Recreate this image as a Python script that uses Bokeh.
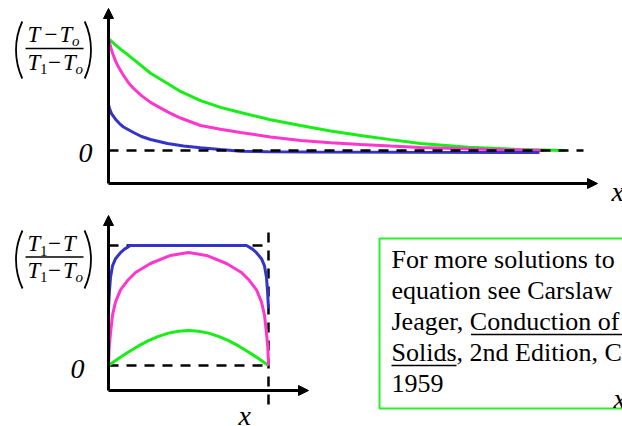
import math
from bokeh.plotting import figure
from bokeh.layouts import column
from bokeh.models import Range1d, Arrow, NormalHead
from bokeh.core.properties import value
from bokeh.embed import file_html
from bokeh.resources import INLINE

# ---------------- data ----------------
# Top panel: semi-infinite solid, dimensionless (T - To)/(T1 - To) vs distance
top_green_x = [0, 0.06, 0.12, 0.2, 0.27, 0.42, 0.57, 0.72, 0.92, 1.12, 1.32, 1.62, 1.92, 2.22, 2.52, 2.82, 3.12, 3.6, 4.1, 4.57]
top_green_y = [1.0, 0.95, 0.905, 0.85, 0.80, 0.69, 0.61, 0.527, 0.446, 0.385, 0.339, 0.275, 0.223, 0.175, 0.134, 0.097, 0.063, 0.030, 0.010, 0.0]

top_magenta_x = [0, 0.01, 0.02, 0.04, 0.07, 0.1, 0.15, 0.2, 0.25, 0.33, 0.42, 0.5, 0.59, 0.72, 0.92, 1.12, 1.32, 1.62, 1.92, 2.22, 2.52, 2.82, 3.12, 3.8, 4.35]
top_magenta_y = [1.0, 0.96, 0.93, 0.87, 0.80, 0.745, 0.67, 0.605, 0.554, 0.49, 0.43, 0.39, 0.345, 0.29, 0.223, 0.19, 0.161, 0.12, 0.089, 0.07, 0.054, 0.04, 0.027, 0.009, 0.0]

top_blue_x = [0, 0.01, 0.03, 0.07, 0.11, 0.15, 0.25, 0.33, 0.42, 0.59, 0.75, 0.92, 1.12, 1.32, 1.6, 2.0, 3.0, 4.31]
top_blue_y = [0.411, 0.375, 0.33, 0.28, 0.24, 0.21, 0.161, 0.125, 0.098, 0.062, 0.04, 0.025, 0.008, -0.006, -0.011, -0.013, -0.016, -0.018]

# Bottom panel: slab, dimensionless (T1 - T)/(T1 - To) vs x/L
bot_blue_x = [0, 0.006, 0.0125, 0.025, 0.044, 0.075, 0.1, 0.1375, 0.8625, 0.9, 0.925, 0.956, 0.975, 0.9875, 0.994, 1.0]
bot_blue_y = [0.475, 0.62, 0.733, 0.83, 0.89, 0.94, 0.97, 1.0, 1.0, 0.97, 0.94, 0.89, 0.83, 0.733, 0.62, 0.475]

bot_magenta_x = [0, 0.004, 0.0125, 0.025, 0.044, 0.075, 0.119, 0.169, 0.2625, 0.3875, 0.5, 0.6125, 0.7375, 0.831, 0.881, 0.925, 0.956, 0.975, 0.9875, 0.996, 1.0]
bot_magenta_y = [0, 0.15, 0.267, 0.42, 0.53, 0.63, 0.708, 0.775, 0.85, 0.917, 0.942, 0.917, 0.85, 0.775, 0.708, 0.63, 0.53, 0.42, 0.267, 0.15, 0]

bot_green_x = [0, 0.0625, 0.125, 0.1875, 0.25, 0.3125, 0.375, 0.4375, 0.5, 0.5625, 0.625, 0.6875, 0.75, 0.8125, 0.875, 0.9375, 1.0]
bot_green_y = [0, 0.058, 0.113, 0.163, 0.207, 0.243, 0.27, 0.286, 0.292, 0.286, 0.27, 0.243, 0.207, 0.163, 0.113, 0.058, 0]

note_lines = ["For more solutions to", "equation see Carslaw", "Jeager, Conduction of", "Solids, 2nd Edition, C", "1959"]

# ---------------- styling ----------------
GREEN = "#16ee16"
MAGENTA = "#ff36cc"
BLUE = "#3434c8"
BOX_GREEN = "#2bef2b"
SERIF = "Liberation Serif"
W = 622
TOP_H = 204
BOT_H = 222
BASE_FIX = 0.36  # bokeh draws 'alphabetic' text lower than the anchor; compensate


def make_fig(h, xr, yr):
    p = figure(width=W, height=h, x_range=Range1d(*xr), y_range=Range1d(*yr),
               output_backend="svg", toolbar_location=None, min_border=0,
               x_axis_location=None, y_axis_location=None)
    p.grid.visible = False
    p.outline_line_color = None
    p.background_fill_color = "white"
    p.border_fill_color = "white"
    return p


# helpers to place annotations (picture pixel -> data units of each panel)
def tp(X, Y):
    return (X - 108) / 100.0, (150 - Y) / 112.0


def bp(X, Y):
    return (X - 108) / 160.0, (365 - Y) / 120.0


def lab(p, conv, X, Y, text, size, style="italic", align="left"):
    x, y = conv(X, Y - BASE_FIX * size)
    p.text(x=[x], y=[y], text=[text], text_font=value(SERIF), text_font_size=value(f"{size}px"),
           text_font_style=style, text_align=align, text_baseline="alphabetic",
           text_color="black")


def arrow(p, x0, y0, x1, y1):
    p.add_layout(Arrow(end=NormalHead(size=10, fill_color="black", line_color="black", line_width=1),
                       x_start=x0, y_start=y0, x_end=x1, y_end=y1,
                       line_width=3, line_color="black"))


def parens(p, conv, ytop, ybot):
    r = 68.0
    yc = (ytop + ybot) / 2.0
    th = math.asin(((ybot - ytop) / 2.0) / r)
    cx, cy = conv(15.5 + r, yc)
    p.arc(x=[cx], y=[cy], radius=r, radius_units="screen", start_angle=math.pi - th,
          end_angle=math.pi + th, line_color="black", line_width=1.8)
    cx, cy = conv(90.5 - r, yc)
    p.arc(x=[cx], y=[cy], radius=r, radius_units="screen", start_angle=-th,
          end_angle=th, line_color="black", line_width=1.8)


def frac_part(p, conv, base, parts):
    for t, X, dy, s, st in parts:
        lab(p, conv, X, base + dy, t, s, st)


# ---------------- top panel ----------------
top = make_fig(TOP_H, (tp(0, 0)[0], tp(W, 0)[0]), (tp(0, TOP_H)[1], tp(0, 0)[1]))

top.line(top_green_x, top_green_y, line_color=GREEN, line_width=3)
top.line(top_magenta_x, top_magenta_y, line_color=MAGENTA, line_width=3)
top.line(top_blue_x, top_blue_y, line_color=BLUE, line_width=3)
top.line([0, 4.75], [0, 0], line_color="black", line_width=2.5, line_dash="10 8")

ax_y = tp(0, 183)[1]
arrow(top, 0, ax_y, 0, tp(0, 8)[1])
arrow(top, 0, ax_y, tp(597, 0)[0], ax_y)

lab(top, tp, 78, 163, "0", 28)
lab(top, tp, 611, 201, "x", 28)

parens(top, tp, 21, 78)
x0, y0 = tp(25, 48)
x1, _ = tp(83, 48)
top.line([x0, x1], [y0, y0], line_color="black", line_width=1.3)
frac_part(top, tp, 42, [("T", 27, 0, 23, "italic"), ("\u2212", 44, 0, 23, "normal"),
                        ("T", 59, 0, 23, "italic"), ("o", 71.5, 4, 15, "italic")])
frac_part(top, tp, 70, [("T", 27, 0, 23, "italic"), ("1", 39.5, 4, 15, "normal"),
                        ("\u2212", 47.5, 0, 23, "normal"), ("T", 62.5, 0, 23, "italic"),
                        ("o", 75, 4, 15, "italic")])

# ---------------- bottom panel ----------------
bot = make_fig(BOT_H, (bp(0, 0)[0], bp(W, 0)[0]), (bp(0, TOP_H + BOT_H)[1], bp(0, TOP_H)[1]))

bot.line([0, 1], [1, 1], line_color="black", line_width=2.5, line_dash="10 8")
bot.line([0, 1], [0, 0], line_color="black", line_width=2.5, line_dash="10 8")
bot.line([1, 1], [bp(0, 232)[1], bp(0, 405)[1]], line_color="black", line_width=2.5, line_dash="10 8")

bot.line(bot_green_x, bot_green_y, line_color=GREEN, line_width=3)
bot.line(bot_magenta_x, bot_magenta_y, line_color=MAGENTA, line_width=3)
bot.line(bot_blue_x, bot_blue_y, line_color=BLUE, line_width=3)

bax_y = bp(0, 390)[1]
arrow(bot, 0, bax_y, 0, bp(0, 215)[1])
arrow(bot, 0, bax_y, bp(308, 0)[0], bax_y)

lab(bot, bp, 70, 379, "0", 28)
lab(bot, bp, 238, 425, "x", 28)

parens(bot, bp, 230, 288)
x0, y0 = bp(25, 256.5)
x1, _ = bp(83, 256.5)
bot.line([x0, x1], [y0, y0], line_color="black", line_width=1.3)
frac_part(bot, bp, 251.5, [("T", 27, 0, 23, "italic"), ("1", 39.5, 4, 15, "normal"),
                           ("\u2212", 47.5, 0, 23, "normal"), ("T", 62.5, 0, 23, "italic")])
frac_part(bot, bp, 278, [("T", 27, 0, 23, "italic"), ("1", 39.5, 4, 15, "normal"),
                         ("\u2212", 47.5, 0, 23, "normal"), ("T", 62.5, 0, 23, "italic"),
                         ("o", 75, 4, 15, "italic")])

# note box
bl, bt = bp(379, 238)
br, bb = bp(700, 408)
bot.quad(left=[bl], right=[br], top=[bt], bottom=[bb], fill_color=None,
         line_color=BOX_GREEN, line_width=2)
for i, t in enumerate(note_lines):
    lab(bot, bp, 391, 268 + 31 * i, t, 26, "normal")
# underlines of the book title
ux0, uy = bp(470.5, 334)
ux1, _ = bp(700, 334)
bot.line([ux0, ux1], [uy, uy], line_color="black", line_width=1.3)
ux0, uy = bp(391, 365)
ux1, _ = bp(456, 365)
bot.line([ux0, ux1], [uy, uy], line_color="black", line_width=1.3)
lab(bot, bp, 613, 408, "x", 28)

layout = column(top, bot, spacing=0)
open("out.html", "w").write(file_html(layout, INLINE))
